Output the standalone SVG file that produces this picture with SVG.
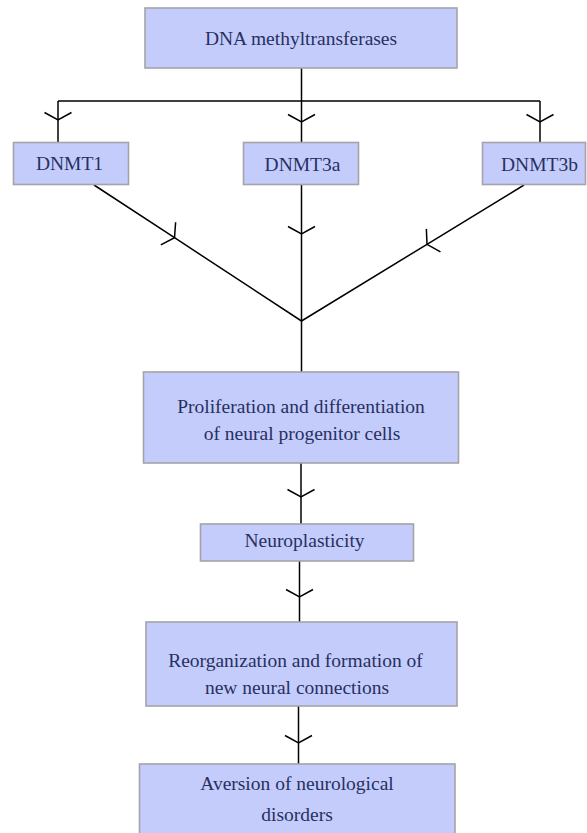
<svg xmlns="http://www.w3.org/2000/svg" width="587" height="833" viewBox="0 0 587 833">
<style>
.box{fill:#c4ccfc;stroke:#a4a4a8;stroke-width:1.6}
.t{font-family:'Liberation Serif',Tinos,'Times New Roman','DejaVu Serif',serif;font-size:19.5px;fill:#283060;text-anchor:middle}
.c{fill:none;stroke:#000;stroke-width:1.5;marker-mid:url(#arr)}
.p{fill:none;stroke:#000;stroke-width:1.5}
</style>
<defs>
<marker id="arr" markerUnits="userSpaceOnUse" orient="auto" overflow="visible" markerWidth="10" markerHeight="30" refX="0" refY="0">
<path d="M-7.5,-13.5 L0,0 L-7.5,13.5" fill="none" stroke="#000" stroke-width="1.5"/>
</marker>
</defs>
<rect width="587" height="833" fill="#fff"/>
<g id="connectors">
<path class="p" d="M301.5,68 V101 M58,101 H540"/>
<path class="c" d="M58,101 L58,120 L58,142"/>
<path class="c" d="M301.5,101 L301.5,122 L301.5,142"/>
<path class="c" d="M540,101 L540,122 L540,142"/>
<path class="c" d="M94,185 L174.5,237.7 L301.5,321"/>
<path class="c" d="M301.5,185 L301.5,234 L301.5,321"/>
<path class="c" d="M524,185 L427,244.3 L301.5,321"/>
<path class="p" d="M301.5,321 V372"/>
<path class="c" d="M301,463 L301,497 L301,524"/>
<path class="c" d="M299.5,561 L299.5,597 L299.5,622"/>
<path class="c" d="M298.5,706 L298.5,743 L298.5,764"/>
</g>
<g id="n-dnmt">
<rect class="box" x="145" y="8" width="312" height="60"/>
<text class="t" x="301" y="45" font-family="Liberation Serif, serif">DNA methyltransferases</text>
</g>
<g id="n-dnmt1">
<rect class="box" x="13.5" y="142.5" width="115" height="42"/>
<text class="t" x="69.5" y="170" font-family="Liberation Serif, serif">DNMT1</text>
</g>
<g id="n-dnmt3a">
<rect class="box" x="243.5" y="142.5" width="115" height="42"/>
<text class="t" x="302.5" y="170.5" font-family="Liberation Serif, serif">DNMT3a</text>
</g>
<g id="n-dnmt3b">
<rect class="box" x="482.5" y="142.5" width="103" height="42"/>
<text class="t" x="539.5" y="170.5" font-family="Liberation Serif, serif">DNMT3b</text>
</g>
<g id="n-prolif">
<rect class="box" x="143.5" y="372" width="315" height="91"/>
<text class="t" x="301" y="413" font-family="Liberation Serif, serif">Proliferation and differentiation</text>
<text class="t" x="302" y="440" font-family="Liberation Serif, serif">of neural progenitor cells</text>
</g>
<g id="n-neuro">
<rect class="box" x="200.5" y="524" width="213" height="37"/>
<text class="t" x="304.5" y="547" font-family="Liberation Serif, serif">Neuroplasticity</text>
</g>
<g id="n-reorg">
<rect class="box" x="146" y="622" width="311" height="84"/>
<text class="t" x="295.5" y="667" font-family="Liberation Serif, serif">Reorganization and formation of</text>
<text class="t" x="297" y="694" font-family="Liberation Serif, serif">new neural connections</text>
</g>
<g id="n-aversion">
<rect class="box" x="139.5" y="764" width="315.5" height="80"/>
<text class="t" x="297" y="790" font-family="Liberation Serif, serif">Aversion of neurological</text>
<text class="t" x="297" y="821" font-family="Liberation Serif, serif">disorders</text>
</g>
</svg>
